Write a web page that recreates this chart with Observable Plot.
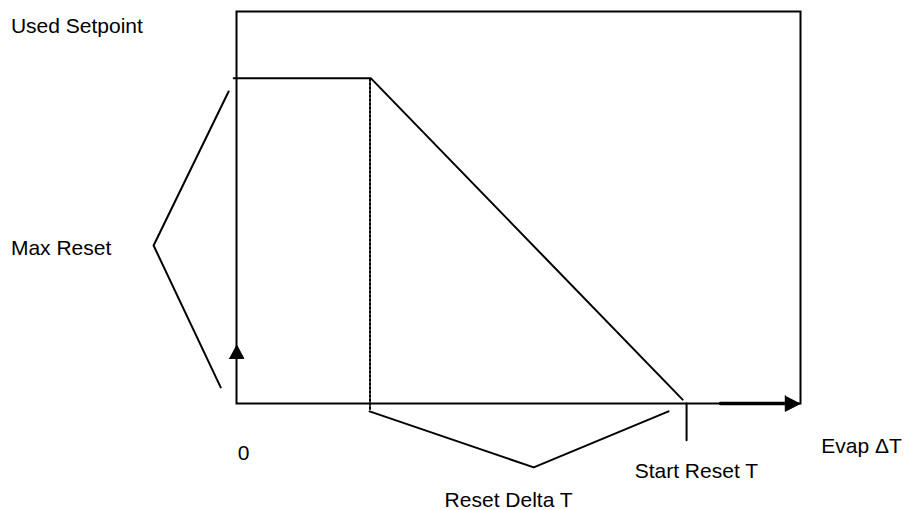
<!DOCTYPE html>
<html>
<head>
<meta charset="utf-8">
<script src="https://cdn.jsdelivr.net/npm/d3@7"></script>
<script src="https://cdn.jsdelivr.net/npm/@observablehq/plot@0.6"></script>
<style>
  html, body { margin: 0; padding: 0; background: #fff; }
  #chart svg { display: block; }
</style>
</head>
<body>
<div id="chart"></div>
<script>
// Schematic setpoint-reset curve (x: Evap ΔT units, y: setpoint units)
const curveX = [-0.05, 2.38, 7.91];
const curveY = [8.3, 8.3, 0.1];

// dotted guide at end of plateau
const guideX = [2.367, 2.367];
const guideY = [8.28, -0.18];

// "Max Reset" bracket
const maxResetX = [-0.14, -1.47, -0.28];
const maxResetY = [7.96, 4.03, 0.41];

// "Reset Delta T" bracket
const deltaX = [2.36, 5.27, 7.66];
const deltaY = [-0.2, -1.63, -0.2];

// "Start Reset T" tick
const startTickX = [7.98, 7.98];
const startTickY = [0, -0.94];

// axis arrows
const upArrowX = [-0.13, 0.13, 0];
const upArrowY = [1.15, 1.15, 1.5];
const rightShaftX = [8.58, 9.75];
const rightShaftY = [0, 0];
const rightArrowX = [9.73, 9.73, 10];
const rightArrowY = [0.2, -0.2, 0];

// labels
const labelText = ["Used Setpoint", "Max Reset", "0", "Start Reset T", "Reset Delta T", "Evap \u0394T"];
const labelX = [-4.0, -4.0, 0.02, 7.06, 3.69, 10.37];
const labelY = [9.46, 3.78, -1.43, -1.89, -2.63, -1.25];

const pts = (xs, ys) => xs.map((x, i) => ({x, y: ys[i]}));
const labels = labelText.map((t, i) => ({t, x: labelX[i], y: labelY[i]}));

const chart = Plot.plot({
  width: 906,
  height: 510,
  marginLeft: 236,
  marginRight: 106,
  marginTop: 11,
  marginBottom: 107,
  x: {domain: [0, 10], axis: null},
  y: {domain: [0, 10], axis: null},
  style: {fontFamily: "'Liberation Sans', Arial, sans-serif", background: "#fff"},
  marks: [
    Plot.frame({stroke: "black", strokeWidth: 2}),
    Plot.line(pts(guideX, guideY), {x: "x", y: "y", stroke: "black", strokeWidth: 2, strokeDasharray: "2,2"}),
    Plot.line(pts(curveX, curveY), {x: "x", y: "y", stroke: "black", strokeWidth: 2}),
    Plot.line(pts(maxResetX, maxResetY), {x: "x", y: "y", stroke: "black", strokeWidth: 2}),
    Plot.line(pts(deltaX, deltaY), {x: "x", y: "y", stroke: "black", strokeWidth: 2}),
    Plot.line(pts(startTickX, startTickY), {x: "x", y: "y", stroke: "black", strokeWidth: 2}),
    Plot.line(pts(rightShaftX, rightShaftY), {x: "x", y: "y", stroke: "black", strokeWidth: 3.5}),
    Plot.line(pts(upArrowX, upArrowY), {x: "x", y: "y", fill: "black", stroke: "black", strokeWidth: 1}),
    Plot.line(pts(rightArrowX, rightArrowY), {x: "x", y: "y", fill: "black", stroke: "black", strokeWidth: 1}),
    Plot.text(labels, {x: "x", y: "y", text: "t", textAnchor: "start", lineAnchor: "bottom", fontSize: 21, fill: "black"})
  ]
});
document.getElementById("chart").appendChild(chart);
</script>
</body>
</html>
